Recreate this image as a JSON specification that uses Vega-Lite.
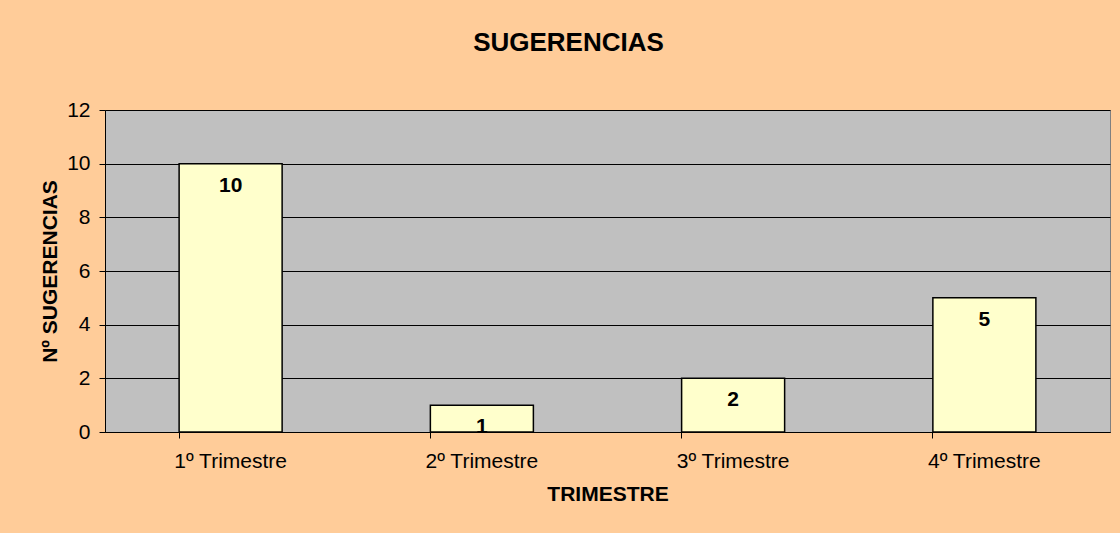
{
  "$schema": "https://vega.github.io/schema/vega-lite/v6.json",
  "autosize": "none",
  "width": 1005,
  "height": 322,
  "padding": {"left": 105, "top": 110, "right": 10, "bottom": 101},
  "background": "#FFCC99",
  "title": {
    "text": "SUGERENCIAS",
    "font": "Liberation Sans",
    "fontSize": 26,
    "fontWeight": "bold",
    "color": "#000000",
    "anchor": "middle",
    "frame": "group",
    "dx": -39,
    "baseline": "alphabetic",
    "offset": 22
  },
  "config": {
    "view": {"fill": "#C0C0C0", "stroke": "#808080", "strokeWidth": 1},
    "font": "Liberation Sans"
  },
  "data": {
    "values": [
      {"trimestre": "1º Trimestre", "sugerencias": 10},
      {"trimestre": "2º Trimestre", "sugerencias": 1},
      {"trimestre": "3º Trimestre", "sugerencias": 2},
      {"trimestre": "4º Trimestre", "sugerencias": 5}
    ]
  },
  "encoding": {
    "x": {
      "field": "trimestre",
      "type": "nominal",
      "sort": null,
      "scale": {"paddingInner": 0.59, "paddingOuter": 0.295},
      "axis": {
        "title": "TRIMESTRE",
        "titleFont": "Liberation Sans",
        "titleFontSize": 21,
        "titleFontWeight": "bold",
        "titleColor": "#000000",
        "titlePadding": 12,
        "labelFont": "Liberation Sans",
        "labelFontSize": 21,
        "labelColor": "#000000",
        "labelAngle": 0,
        "labelPadding": 12,
        "domainColor": "#000000",
        "tickColor": "#000000",
        "tickSize": 6,
        "bandPosition": 0,
        "grid": false
      }
    },
    "y": {
      "field": "sugerencias",
      "type": "quantitative",
      "scale": {"domain": [0, 12], "nice": false},
      "axis": {
        "title": "Nº SUGERENCIAS",
        "titleFont": "Liberation Sans",
        "titleFontSize": 21,
        "titleFontWeight": "bold",
        "titleColor": "#000000",
        "titlePadding": 6,
        "values": [0, 2, 4, 6, 8, 10, 12],
        "labelFont": "Liberation Sans",
        "labelFontSize": 21,
        "labelColor": "#000000",
        "labelPadding": 9,
        "domainColor": "#000000",
        "tickColor": "#000000",
        "tickSize": 6,
        "grid": true,
        "gridColor": "#000000",
        "gridWidth": 1,
        "gridOpacity": 1
      }
    }
  },
  "layer": [
    {
      "mark": {"type": "bar", "fill": "#FFFFCC", "stroke": "#000000", "strokeWidth": 1.5}
    },
    {
      "mark": {
        "type": "text",
        "font": "Liberation Sans",
        "fontSize": 21,
        "fontWeight": "bold",
        "color": "#000000",
        "baseline": "middle",
        "dy": 22
      },
      "encoding": {"text": {"field": "sugerencias", "type": "quantitative"}}
    }
  ]
}
